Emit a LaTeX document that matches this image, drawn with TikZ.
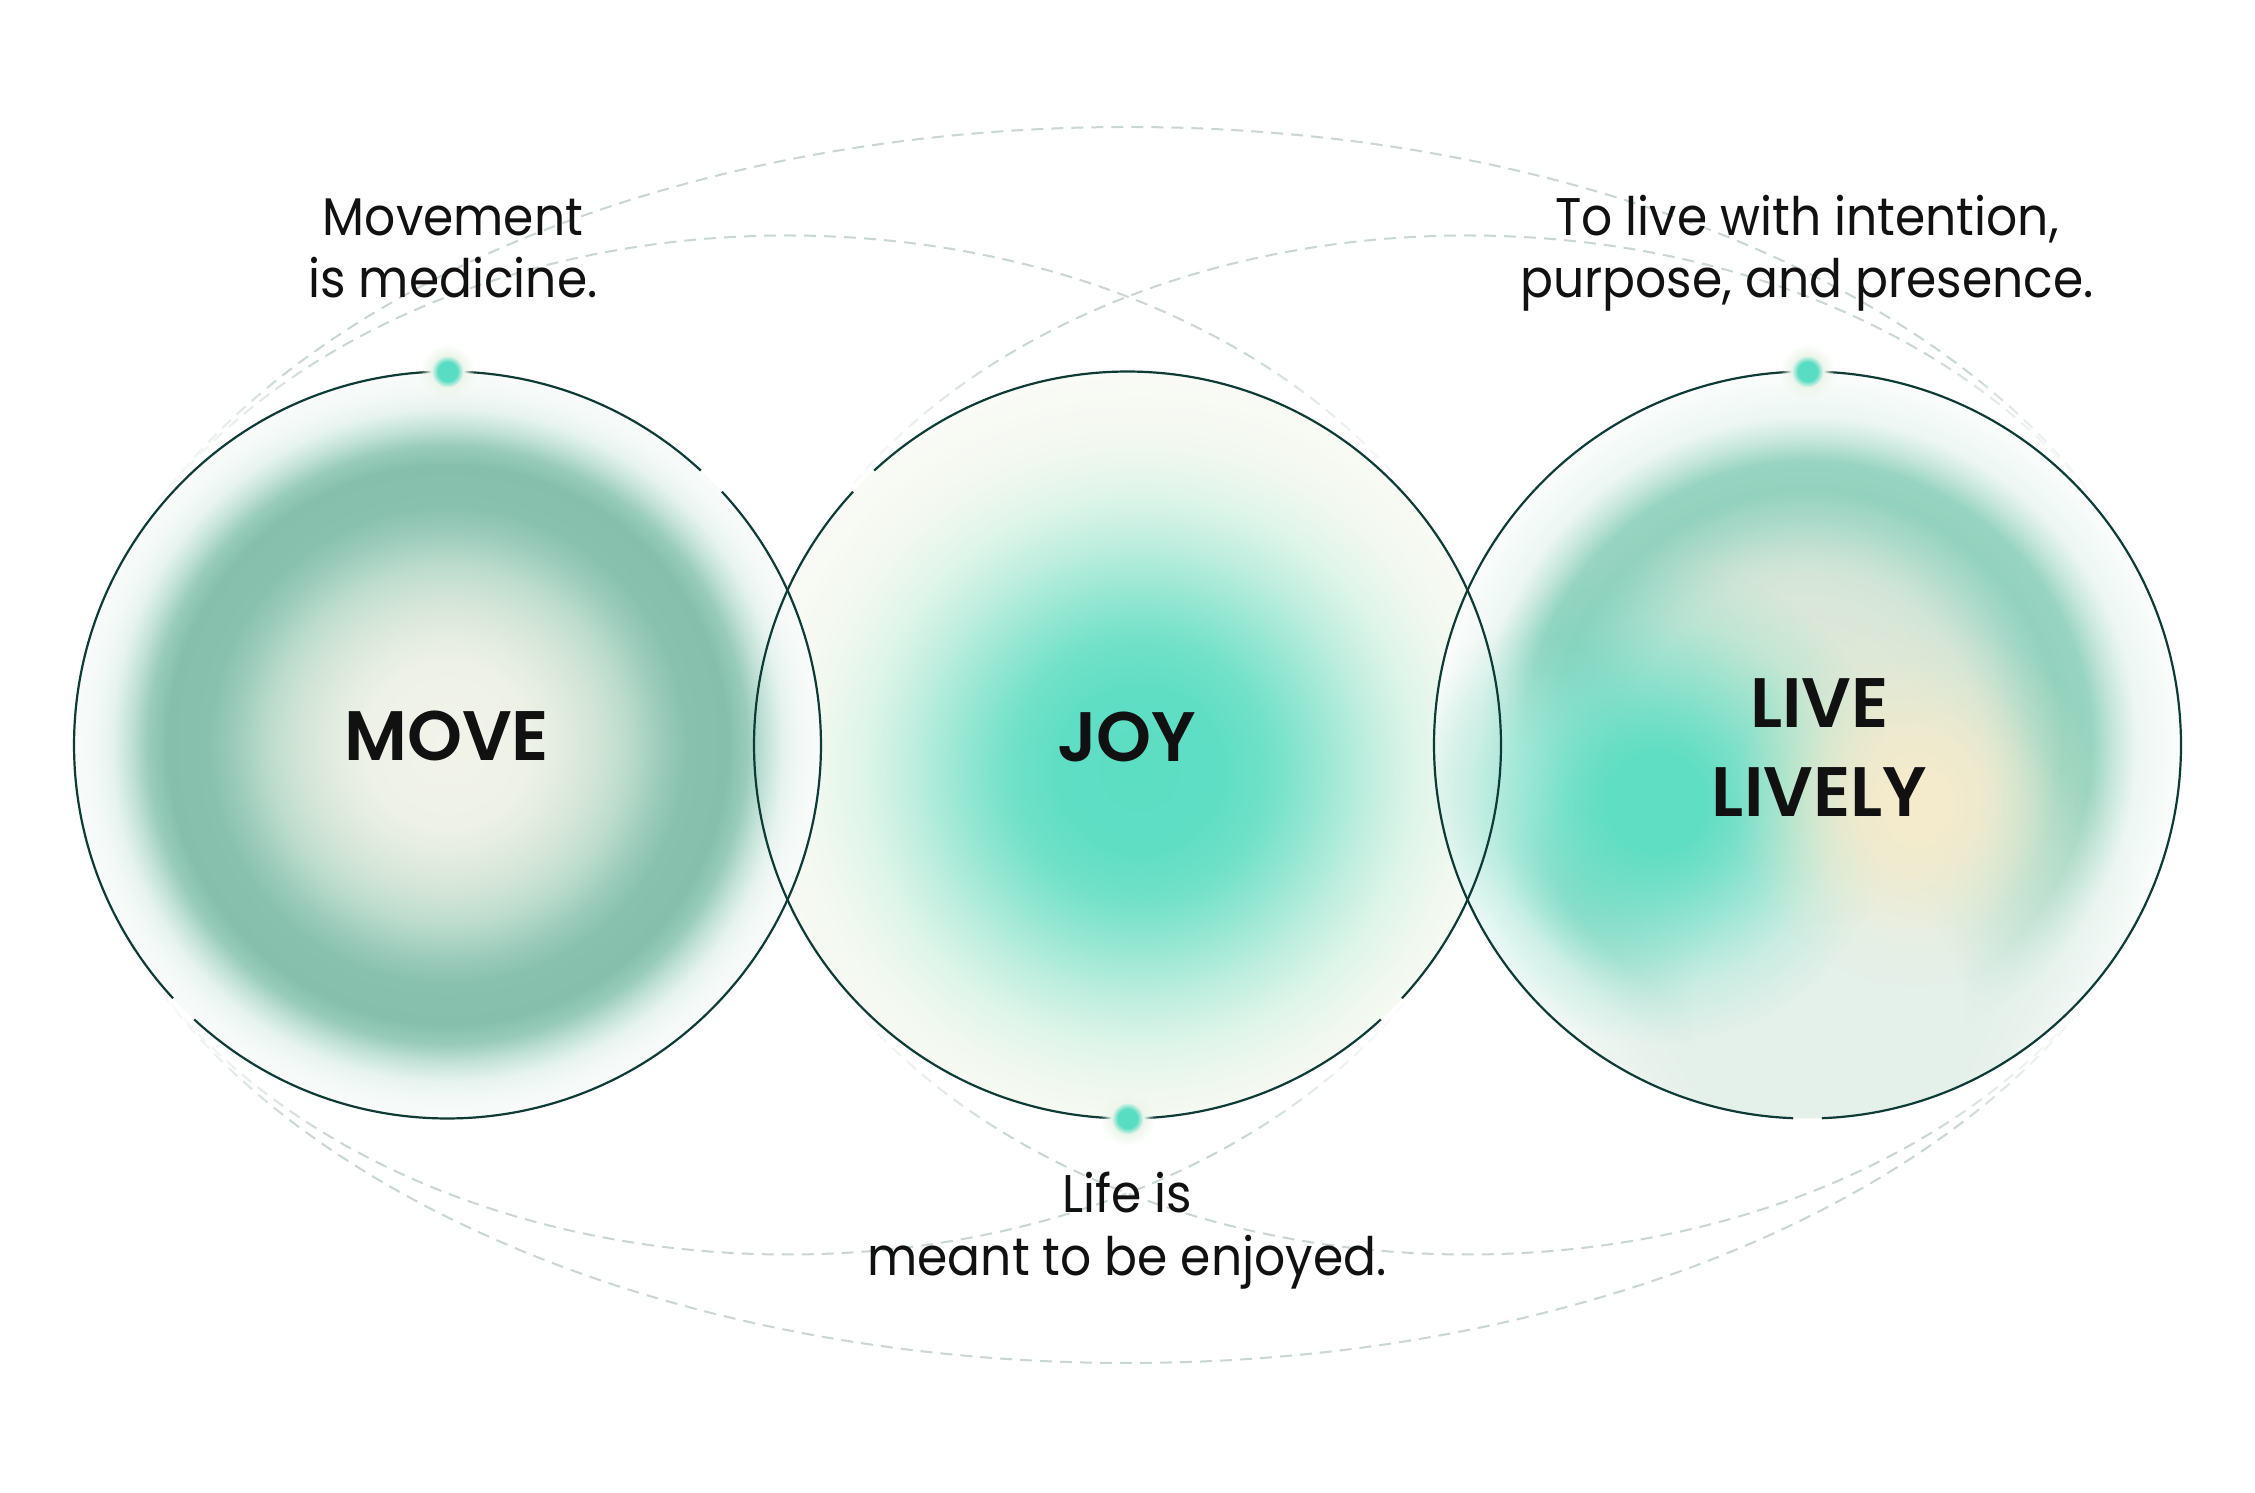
\documentclass[tikz,border=0pt]{standalone}
\usepackage{fontspec}
\usetikzlibrary{fadings}
\newfontfamily\txtfont{Poppins}[FakeStretch=0.92]
\IfFontExistsTF{Poppins SemiBold}{\newfontfamily\lblfont{Poppins SemiBold}}{\newfontfamily\lblfont{Poppins}[FakeBold=2]}

\definecolor{ink}{HTML}{111111}
\definecolor{rimc}{HTML}{0F3B36}
\definecolor{dashc}{HTML}{C9D6D3}
\definecolor{dotc}{HTML}{58DDC2}
\definecolor{dotglow}{HTML}{EEF6EC}
% MOVE
\definecolor{mvA}{HTML}{F2F4EA}
\definecolor{mvB}{HTML}{EEF1E8}
\definecolor{mvC}{HTML}{E4ECE2}
\definecolor{mvD}{HTML}{D4E5D8}
\definecolor{mvE}{HTML}{BCDCCD}
\definecolor{mvF}{HTML}{9CCBBB}
\definecolor{mvG}{HTML}{88C1AE}
\definecolor{mvH}{HTML}{86C0AD}
\definecolor{mvI}{HTML}{98CBBA}
\definecolor{mvJ}{HTML}{C3E2D7}
\definecolor{mvK}{HTML}{E6F3EE}
\definecolor{mvM}{HTML}{F4F9F7}
\definecolor{mvL}{HTML}{F8FBFA}
% JOY
\definecolor{jyA}{HTML}{5CDEC3}
\definecolor{jyB}{HTML}{5FDEC4}
\definecolor{jyC}{HTML}{72E1C8}
\definecolor{jyD}{HTML}{98E7D2}
\definecolor{jyE}{HTML}{C0EEDF}
\definecolor{jyF}{HTML}{E0F5EA}
\definecolor{jyG}{HTML}{F2F8F0}
\definecolor{jyH}{HTML}{F8FAF4}
\definecolor{jyI}{HTML}{FAFBF7}
% LIVE
\definecolor{lvA}{HTML}{DDE8D8}
\definecolor{lvB}{HTML}{D8E8DC}
\definecolor{lvC}{HTML}{CDE4D8}
\definecolor{lvD}{HTML}{A5D8C8}
\definecolor{lvE}{HTML}{93D2BE}
\definecolor{lvF}{HTML}{98D4C1}
\definecolor{lvG}{HTML}{C8E7DC}
\definecolor{lvH}{HTML}{ECF6F2}
\definecolor{lvJ}{HTML}{FBFDFC}
\definecolor{lvmint}{HTML}{5FDEC3}
\definecolor{lvcream}{HTML}{F3EBCC}
\definecolor{lvlight}{HTML}{E4F0EA}
\definecolor{lvlightb}{HTML}{DDE8D8}
\definecolor{lvleft}{HTML}{E0F2EA}

\pgfdeclareradialshading{moveshade}{\pgfpointorigin}{color(0bp)=(mvA); color(5.5bp)=(mvB); color(7.5bp)=(mvC); color(9.75bp)=(mvD); color(12bp)=(mvE); color(14.25bp)=(mvF); color(16bp)=(mvG); color(18.75bp)=(mvH); color(20bp)=(mvI); color(21.25bp)=(mvJ); color(22.5bp)=(mvK); color(23.75bp)=(mvM); color(25bp)=(mvL); color(50bp)=(mvL)}
\pgfdeclareradialshading{joyshade}{\pgfpointorigin}{color(0bp)=(jyA); color(5bp)=(jyB); color(8bp)=(jyC); color(11bp)=(jyD); color(14bp)=(jyE); color(17bp)=(jyF); color(20bp)=(jyG); color(23bp)=(jyH); color(25bp)=(jyI); color(50bp)=(jyI)}
\pgfdeclareradialshading{liveshade}{\pgfpointorigin}{color(0bp)=(lvA); color(7.75bp)=(lvB); color(11.5bp)=(lvC); color(15bp)=(lvD); color(17bp)=(lvE); color(19bp)=(lvF); color(20.5bp)=(lvG); color(22bp)=(lvH); color(25bp)=(lvJ); color(50bp)=(lvJ)}

\pgfdeclareradialshading{blobfadeS}{\pgfpointorigin}{color(0bp)=(white); color(6bp)=(black!10!white); color(13bp)=(black!45!white); color(20bp)=(black!85!white); color(25bp)=(black); color(50bp)=(black)}
\pgfdeclarefading{blobfade}{\pgfuseshading{blobfadeS}}
\pgfdeclareradialshading{mintfadeS}{\pgfpointorigin}{color(0bp)=(white); color(5bp)=(white); color(9bp)=(black!20!white); color(14bp)=(black!50!white); color(19bp)=(black!80!white); color(25bp)=(black); color(50bp)=(black)}
\pgfdeclarefading{mintfade}{\pgfuseshading{mintfadeS}}
\pgfdeclareradialshading{widefadeS}{\pgfpointorigin}{color(0bp)=(white); color(10bp)=(white); color(17bp)=(black!50!white); color(25bp)=(black); color(50bp)=(black)}
\pgfdeclarefading{widefade}{\pgfuseshading{widefadeS}}
\pgfdeclareradialshading{halofadeS}{\pgfpointorigin}{color(0bp)=(white); color(23bp)=(white); color(25bp)=(black); color(50bp)=(black)}
\pgfdeclarefading{halofade}{\pgfuseshading{halofadeS}}
\pgfdeclareradialshading{dotfadeS}{\pgfpointorigin}{color(0bp)=(white); color(15bp)=(white); color(25bp)=(black); color(50bp)=(black)}
\pgfdeclarefading{dotfade}{\pgfuseshading{dotfadeS}}

\begin{document}
\begin{tikzpicture}[x=1pt,y=1pt,
  dashring/.style={draw=dashc, line width=2pt, dash pattern=on 12pt off 8pt},
  rim/.style={draw=rimc, line width=2.2pt},
  note/.style={font=\txtfont\fontsize{53}{62}\selectfont, text=ink, anchor=base, inner sep=0pt},
  biglabel/.style={font=\lblfont\fontsize{70}{89}\selectfont, text=ink, anchor=base, inner sep=0pt}]
\useasboundingbox (0,0) rectangle (2255,1492);
\fill[white] (0,0) rectangle (2255,1492);

\coordinate (c1) at (447.5,747);
\coordinate (c2) at (1127.5,747);
\coordinate (c3) at (1807.5,747);
\coordinate (ea) at (787.5,747);
\coordinate (eb) at (1467.5,747);
\coordinate (d1) at (447.5,1120.5);
\coordinate (d2) at (1127.5,373.5);
\coordinate (d3) at (1807.5,1120.5);

% dashed orbits
\draw[dashring] (c2) ellipse [x radius=1054, y radius=618];
\draw[dashring] (ea) ellipse [x radius=715, y radius=509.5];
\draw[dashring] (eb) ellipse [x radius=715, y radius=509.5];

% soft halos
\foreach \c in {c1,c2,c3} \fill[white, path fading=halofade] (\c) circle (406);

% JOY fill
\begin{scope}
  \clip (c2) circle (373.5);
  \shade[shading=joyshade] ([shift={(12,-25)}]c2) circle (410);
\end{scope}
% MOVE fill
\shade[shading=moveshade] (c1) circle (373.5);
% LIVE LIVELY fill
\begin{scope}
  \clip (c3) circle (373.5);
  \shade[shading=liveshade] (c3) circle (373.5);
  \fill[lvlight, path fading=widefade] ([shift={(20,-270)}]c3) circle (340);
  \fill[lvleft, path fading=blobfade] ([shift={(-290,-40)}]c3) circle (150);
  \fill[lvlightb, path fading=blobfade] ([shift={(0,40)}]c3) circle (220);
  \fill[lvmint, path fading=mintfade] ([shift={(-152,-57)}]c3) circle (240);
  \fill[lvcream, path fading=mintfade] ([shift={(110,-57)}]c3) circle (185);
\end{scope}

% outlines with gaps
\draw[rim] (c1) ++(47.3:373.5) arc[start angle=47.3, end angle=222.7, radius=373.5];
\draw[rim] (c1) ++(227.3:373.5) arc[start angle=227.3, end angle=402.7, radius=373.5];
\draw[rim] (c2) ++(137.3:373.5) arc[start angle=137.3, end angle=312.7, radius=373.5];
\draw[rim] (c2) ++(317.3:373.5) arc[start angle=317.3, end angle=492.7, radius=373.5];
\draw[rim] (c3) ++(272.2:373.5) arc[start angle=272.2, end angle=627.8, radius=373.5];

% dots
\foreach \d in {d1,d2,d3} {
  \fill[dotglow, path fading=dotfade] (\d) circle (27);
  \fill[dotc, path fading=dotfade] (\d) circle (16);
}

% texts
\node[note] (m1) at (453,1256) {Movement};
\node[note] (m2) at (453,1194.5) {is medicine.};
\node[note] (p1) at (1807,1256) {To live with intention,};
\node[note] (p2) at (1807,1194.5) {purpose, and presence.};
\node[note] (l1) at (1127,279.7) {Life is};
\node[note] (l2) at (1127,216.3) {meant to be enjoyed.};
\node[biglabel] (move) at (446.7,731) {MOVE};
\node[biglabel] (joy) at (1126.7,730) {JOY};
\node[biglabel] (live1) at (1819.5,764.7) {LIVE};
\node[biglabel] (live2) at (1819.5,675.3) {LIVELY};
\end{tikzpicture}
\end{document}
